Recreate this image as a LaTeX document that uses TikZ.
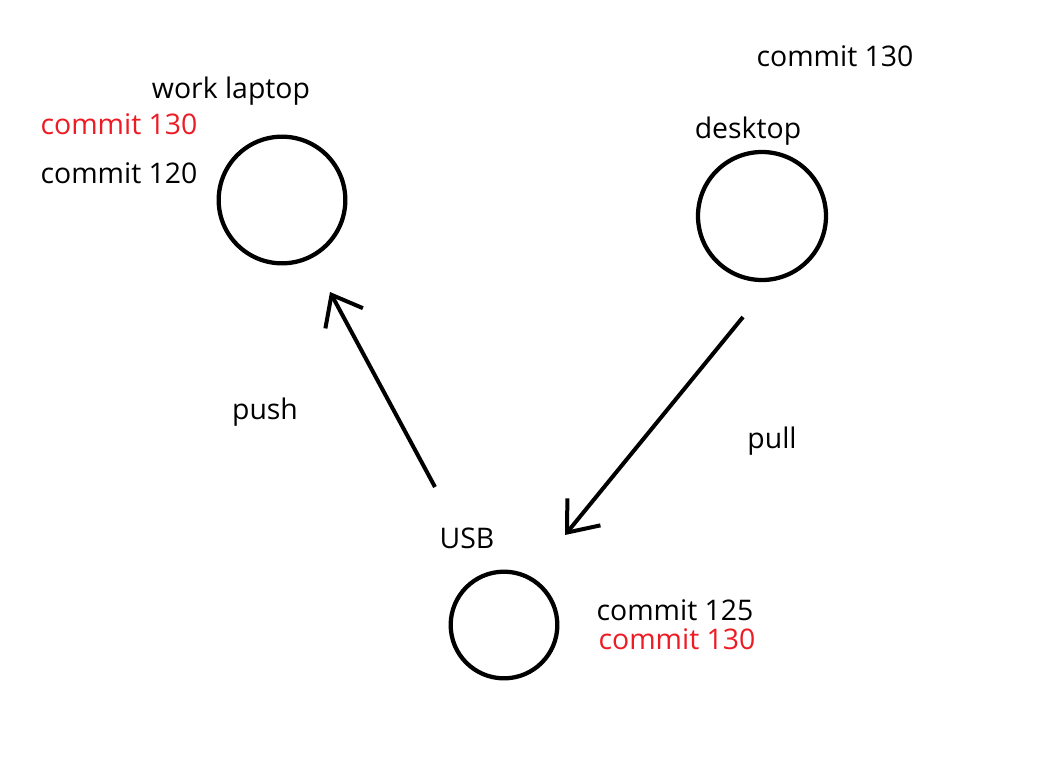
\documentclass[tikz,border=0pt]{standalone}
\usepackage{fontspec}
\setmainfont{Open Sans}
\usetikzlibrary{arrows.meta}
\definecolor{pred}{HTML}{ED1C24}
\tikzset{
  site/.style={draw=black, line width=3.2pt, circle, minimum size=#1, inner sep=0pt},
  lbl/.style={font=\fontsize{21.3}{23}\selectfont, text=black, inner sep=0pt},
  redlbl/.style={lbl, text=pred},
  link/.style={line width=3pt, -{Straight Barb[length=20pt, width=32pt, line width=3pt]}}
}
\begin{document}
\begin{tikzpicture}[x=0.75pt, y=-0.75pt]
\useasboundingbox (0,0) rectangle (1049,757);
\node[site=95pt] (laptop) at (282,200) {};
\node[site=96pt] (desktop) at (762,216) {};
\node[site=80pt] (usb) at (504,625) {};
\coordinate (pushS) at (435,487);
\coordinate (pushE) at (330,292);
\coordinate (pullS) at (743,317);
\coordinate (pullE) at (565,535);
\draw[link] (pushS) -- (pushE);
\draw[link] (pullS) -- (pullE);
\node[lbl] (tWork) at (231,91) {work laptop};
\node[redlbl] (tL130) at (119,124) {commit 130};
\node[lbl] (tL120) at (119,173) {commit 120};
\node[lbl] (tD130) at (835,56) {commit 130};
\node[lbl] (tDesk) at (748,131) {desktop};
\node[lbl] (tPush) at (265,412) {push};
\node[lbl] (tPull) at (772,441) {pull};
\node[lbl] (tUSB) at (467,538) {USB};
\node[lbl] (tU125) at (675,610) {commit 125};
\node[redlbl] (tU130) at (677,639) {commit 130};
\end{tikzpicture}
\end{document}
